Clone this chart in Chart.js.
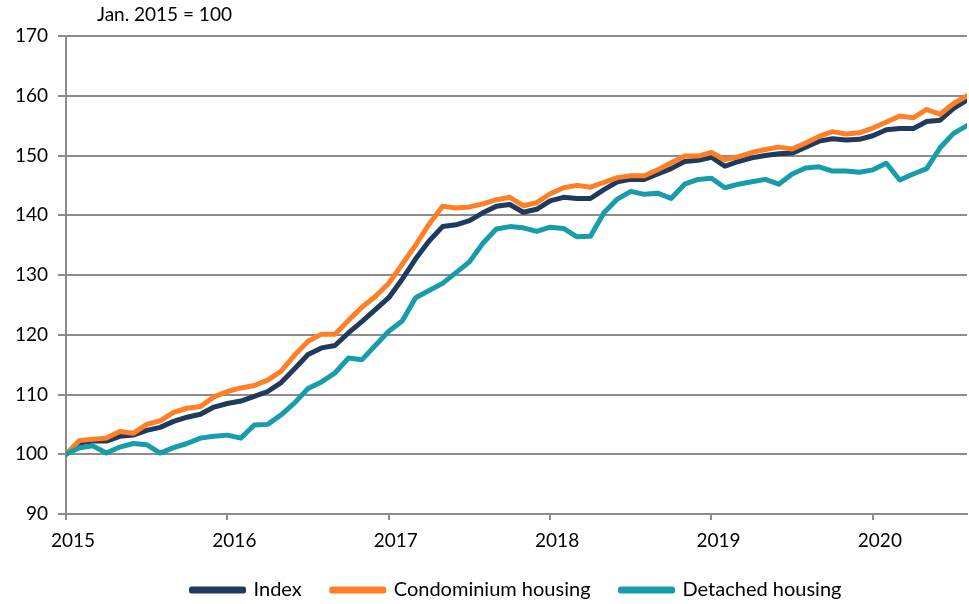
<!DOCTYPE html>
<html>
<head>
<meta charset="utf-8">
<script src="https://cdn.jsdelivr.net/npm/chart.js@4"></script>
<style>
  html, body { margin: 0; padding: 0; background: #fff; }
  #wrap { width: 969px; height: 604px; }
</style>
</head>
<body>
<div id="wrap"><canvas id="grafico"></canvas></div>
<script>
// monthly, Jan 2015 .. Aug 2020 (Jan. 2015 = 100)
var anos = ['2015', '2016', '2017', '2018', '2019', '2020'];
var serieNomes = ['Index', 'Condominium housing', 'Detached housing'];

var indice = [
    100, 101.9, 102.2, 102.2, 103.0, 103.2, 104.0, 104.5, 105.5, 106.2, 106.7, 107.9,
    108.5, 108.9, 109.7, 110.5, 112.0, 114.3, 116.7, 117.8, 118.2, 120.3, 122.2, 124.2,
    126.2, 129.3, 132.7, 135.7, 138.1, 138.4, 139.1, 140.4, 141.5, 141.8, 140.5, 141.0,
    142.4, 143.0, 142.8, 142.8, 144.3, 145.6, 146.0, 146.0, 146.9, 147.8, 149.0, 149.2,
    149.7, 148.2, 149.0, 149.6, 150.0, 150.3, 150.4, 151.4, 152.4, 152.8, 152.6, 152.7,
    153.3, 154.3, 154.5, 154.5, 155.7, 155.9, 157.9, 159.3
];
var condominio = [
    100, 102.3, 102.5, 102.7, 103.8, 103.5, 105.0, 105.6, 107.0, 107.7, 108.0, 109.6,
    110.5, 111.1, 111.5, 112.4, 113.9, 116.6, 118.9, 120.1, 120.1, 122.4, 124.6, 126.4,
    128.6, 131.8, 135.0, 138.5, 141.5, 141.2, 141.4, 141.9, 142.6, 143.0, 141.6, 142.1,
    143.6, 144.6, 145.0, 144.7, 145.5, 146.3, 146.6, 146.6, 147.6, 148.8, 149.9, 149.9,
    150.5, 149.3, 149.8, 150.5, 151.0, 151.4, 151.1, 152.1, 153.2, 154.0, 153.6, 153.8,
    154.6, 155.6, 156.6, 156.3, 157.7, 156.9, 158.7, 160.0
];
var casas = [
    100, 101.1, 101.4, 100.2, 101.2, 101.8, 101.6, 100.2, 101.1, 101.8, 102.7, 103.0,
    103.2, 102.7, 104.9, 105.0, 106.6, 108.6, 111.0, 112.1, 113.6, 116.1, 115.8, 118.2,
    120.6, 122.3, 126.2, 127.4, 128.6, 130.4, 132.2, 135.3, 137.7, 138.1, 137.9, 137.3,
    138.0, 137.8, 136.4, 136.5, 140.4, 142.7, 144.0, 143.5, 143.7, 142.8, 145.2, 146.0,
    146.2, 144.6, 145.2, 145.6, 146.0, 145.2, 146.9, 147.9, 148.1, 147.4, 147.4, 147.2,
    147.6, 148.7, 145.9, 146.9, 147.8, 151.3, 153.7, 155.0
];

var cores = ['#1f3a5c', '#ff7f27', '#179caa'];
var cinza = '#8c8c8c';
var fonte = 'Lato, "Liberation Sans", sans-serif';

function pontos(valores) {
    return valores.map(function(v, i) { return { x: i, y: v }; });
}

function serie(nome, valores, cor, ordem) {
    return {
        label: nome,
        data: pontos(valores),
        borderColor: cor,
        backgroundColor: cor,
        borderWidth: 5,
        borderJoinStyle: 'round',
        borderCapStyle: 'round',
        pointRadius: 0,
        tension: 0,
        order: ordem
    };
}

// "Jan. 2015 = 100" note above the axis
var notaBase = {
    id: 'notaBase',
    afterDraw: function(chart) {
        var ctx = chart.ctx;
        ctx.save();
        ctx.font = '19px ' + fonte;
        ctx.fillStyle = '#000';
        ctx.textBaseline = 'middle';
        ctx.fillText('Jan. 2015 = 100', 97, 15);
        ctx.restore();
    }
};

var ctx = document.getElementById('grafico').getContext('2d');
window.meuGrafico = new Chart(ctx, {
    type: 'line',
    data: {
        datasets: [
            serie(serieNomes[0], indice, cores[0], 3),
            serie(serieNomes[1], condominio, cores[1], 2),
            serie(serieNomes[2], casas, cores[2], 1)
        ]
    },
    options: {
        responsive: true,
        maintainAspectRatio: false,
        animation: false,
        layout: { padding: { top: 36, right: 2, left: 0, bottom: -6 } },
        font: { family: fonte, size: 19 },
        scales: {
            x: {
                type: 'linear',
                min: 0,
                max: indice.length - 1,
                afterFit: function(s) { s.height = 36; },
                grid: {
                    drawOnChartArea: false,
                    drawTicks: true,
                    tickLength: 6,
                    color: cinza,
                    lineWidth: 2
                },
                border: { display: true, color: cinza, width: 2 },
                ticks: {
                    stepSize: 12,
                    includeBounds: false,
                    autoSkip: false,
                    maxRotation: 0,
                    padding: 9,
                    labelOffset: 7,
                    color: '#000',
                    font: { family: fonte, size: 19 },
                    callback: function(v) {
                        return v % 12 === 0 ? anos[v / 12] : '';
                    }
                }
            },
            y: {
                min: 90,
                max: 170,
                afterFit: function(s) { s.width = 66; },
                grid: { color: cinza, lineWidth: 2, tickLength: 8 },
                border: { display: true, color: cinza, width: 2 },
                ticks: {
                    stepSize: 10,
                    padding: 10,
                    color: '#000',
                    font: { family: fonte, size: 19 }
                }
            }
        },
        plugins: {
            legend: {
                position: 'bottom',
                fullSize: false,
                labels: {
                    boxWidth: 52,
                    boxHeight: 2,
                    padding: 30,
                    color: '#000',
                    font: { family: fonte, size: 20 },
                    sort: function(a, b) { return a.datasetIndex - b.datasetIndex; }
                }
            },
            tooltip: { enabled: false }
        }
    },
    plugins: [notaBase]
});
</script>
</body>
</html>
